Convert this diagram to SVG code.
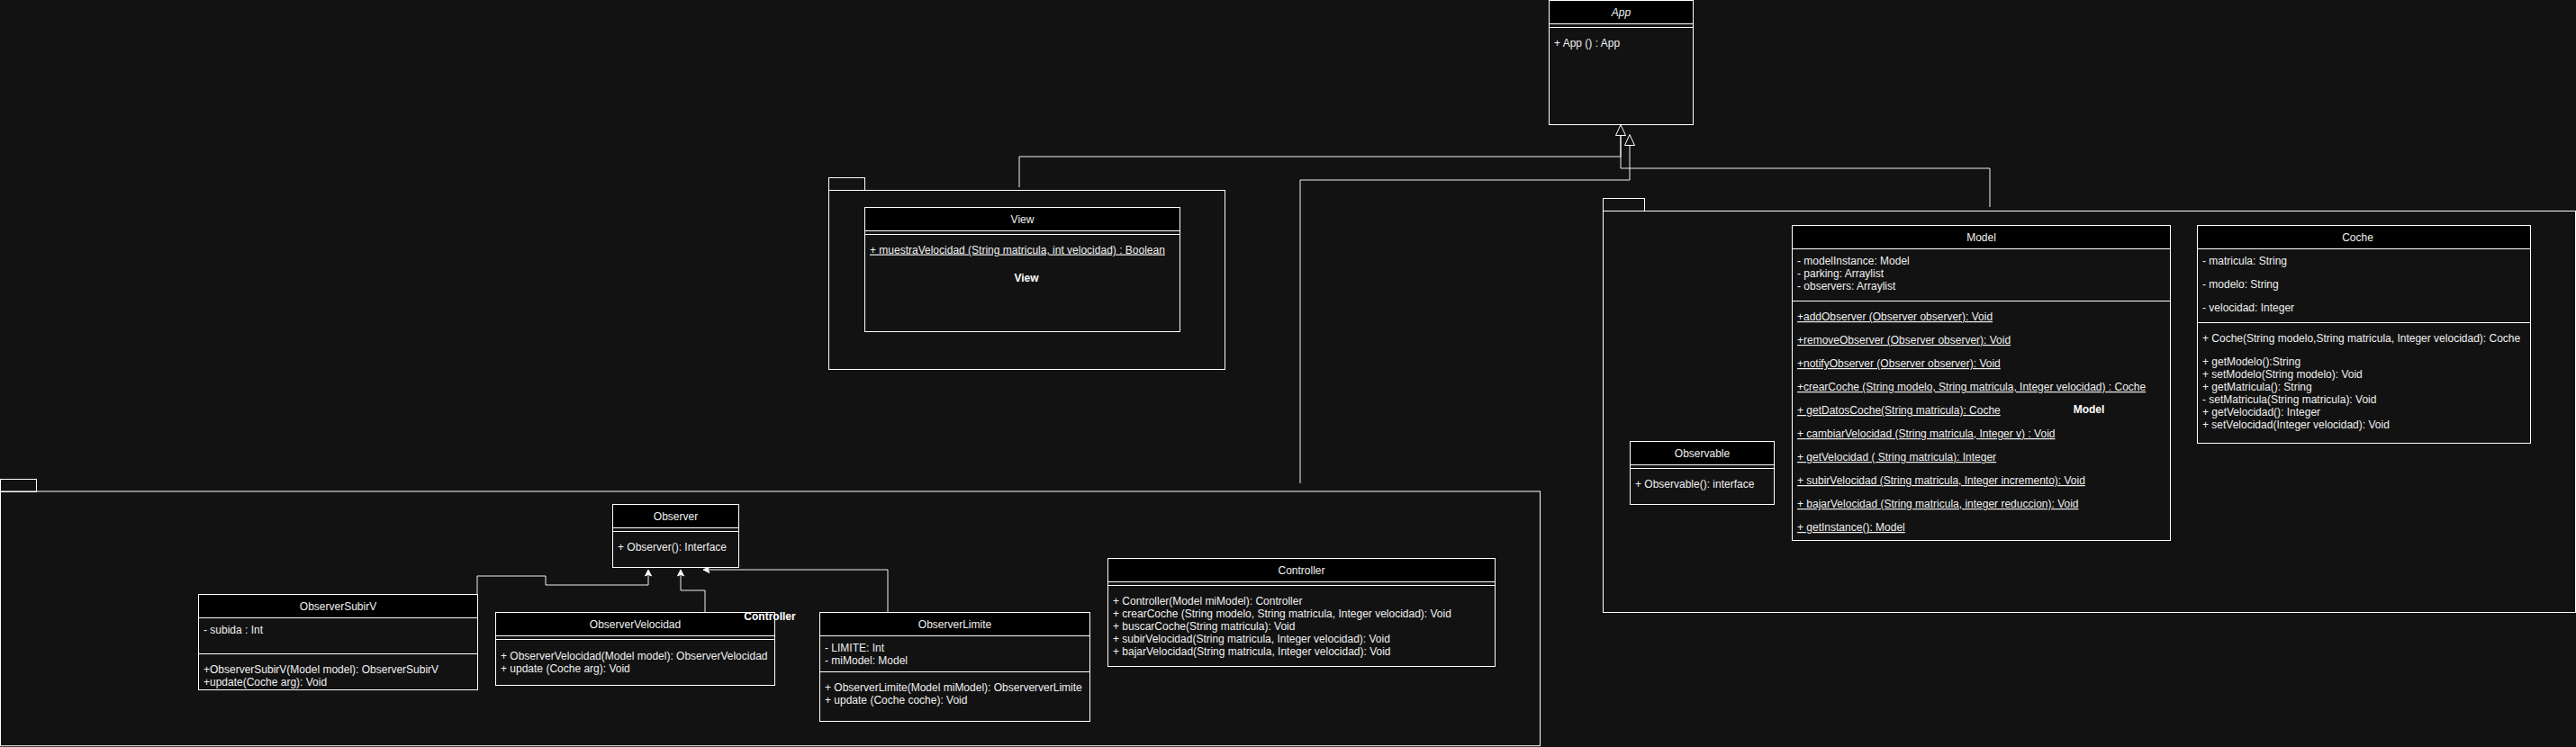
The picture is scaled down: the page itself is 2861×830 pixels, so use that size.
<svg xmlns="http://www.w3.org/2000/svg" width="2861" height="830" viewBox="0 0 2861 830">
<style>
  text { font-family: "Liberation Sans", Arial, sans-serif; font-size: 12px; fill: #f0f0f0; }
  .title { text-anchor: middle; }
  .it { font-style: italic; }
  .pkglabel { font-weight: bold; text-anchor: middle; fill: #ffffff; }
  .u { text-decoration: underline; }
  .box { fill: #121212; stroke: #ffffff; stroke-width: 1; }
  .head { fill: #000000; stroke: #ffffff; stroke-width: 1; }
  .sep { stroke: #ffffff; stroke-width: 1; fill: none; }
  .pkg { fill: none; stroke: #ffffff; stroke-width: 1; }
  .edge { fill: none; stroke: #f0f0f0; stroke-width: 1; }
  .hollow { fill: #121212; stroke: #ffffff; stroke-width: 1; }
  .classic { fill: #ffffff; stroke: #ffffff; stroke-width: 1; }
</style>
<rect x="0" y="0" width="2861" height="830" fill="#121212"/>

<!-- Packages -->
<g id="pkg-view">
  <rect class="pkg" x="920.5" y="197.5" width="40" height="14"/>
  <rect class="pkg" x="920.5" y="211.5" width="440" height="199"/>
</g>
<g id="pkg-model">
  <rect class="pkg" x="1780.5" y="220.5" width="46" height="14"/>
  <rect class="pkg" x="1780.5" y="234.5" width="1080" height="446"/>
</g>
<g id="pkg-controller">
  <rect class="pkg" x="0.5" y="532.5" width="40" height="14"/>
  <rect class="pkg" x="0.5" y="546" width="1710" height="282.7"/>
</g>

<!-- Connectors -->
<g id="connectors">
  <path class="edge" d="M1132,208 V174 H1800 V150"/>
  <path class="edge" d="M2210,230 V187 H1800 V150"/>
  <path class="hollow" d="M1800,138.5 L1805.5,150.5 L1794.5,150.5 Z"/>
  <path class="edge" d="M1444,537 V200 H1810 V161"/>
  <path class="hollow" d="M1810,149.5 L1815.5,161.5 L1804.5,161.5 Z"/>

  <path class="edge" d="M530,660 V640 H606 V650 H720 V638"/>
  <path class="classic" d="M720,633 L723.5,640 L720,638.2 L716.5,640 Z"/>
  <path class="edge" d="M783,680 V656 H756 V638"/>
  <path class="classic" d="M756,633 L759.5,640 L756,638.2 L752.5,640 Z"/>
  <path class="edge" d="M986,680 V633 H787"/>
  <path class="classic" d="M781,633 L788,629.5 L786.2,633 L788,636.5 Z"/>
</g>

<!-- App -->
<g id="app">
  <rect class="box" x="1720.5" y="0.5" width="160" height="138"/>
  <rect class="head" x="1720.5" y="0.5" width="160" height="26"/>
  <line class="sep" x1="1720.5" y1="30.5" x2="1880.5" y2="30.5"/>
  <text class="title it" x="1800.5" y="17.5">App</text>
  <text x="1726" y="51.5">+ App () : App</text>
</g>

<!-- View -->
<g id="view">
  <rect class="box" x="960.5" y="230.5" width="350" height="138"/>
  <rect class="head" x="960.5" y="230.5" width="350" height="26"/>
  <line class="sep" x1="960.5" y1="260.5" x2="1310.5" y2="260.5"/>
  <text class="title" x="1135.5" y="247.5">View</text>
  <text class="u" x="966" y="281.5">+ muestraVelocidad (String matricula, int velocidad) : Boolean</text>
</g>
<text class="pkglabel" x="1140" y="312.5">View</text>

<!-- Model -->
<g id="model">
  <rect class="box" x="1990.5" y="250.5" width="420" height="350"/>
  <rect class="head" x="1990.5" y="250.5" width="420" height="26"/>
  <line class="sep" x1="1990.5" y1="334.5" x2="2410.5" y2="334.5"/>
  <text class="title" x="2200.5" y="267.5">Model</text>
  <text x="1996" y="294">- modelInstance: Model</text>
  <text x="1996" y="308">- parking: Arraylist</text>
  <text x="1996" y="322">- observers: Arraylist</text>
  <text class="u" x="1996" y="356">+addObserver (Observer observer): Void</text>
  <text class="u" x="1996" y="382">+removeObserver (Observer observer): Void</text>
  <text class="u" x="1996" y="408">+notifyObserver (Observer observer): Void</text>
  <text class="u" x="1996" y="434">+crearCoche (String modelo, String matricula, Integer velocidad) : Coche</text>
  <text class="u" x="1996" y="460">+ getDatosCoche(String matricula): Coche</text>
  <text class="u" x="1996" y="486">+ cambiarVelocidad (String matricula, Integer v) : Void</text>
  <text class="u" x="1996" y="512">+ getVelocidad ( String matricula): Integer</text>
  <text class="u" x="1996" y="538">+ subirVelocidad (String matricula, Integer incremento): Void</text>
  <text class="u" x="1996" y="564">+ bajarVelocidad (String matricula, integer reduccion): Void</text>
  <text class="u" x="1996" y="590">+ getInstance(): Model</text>
</g>
<text class="pkglabel" x="2320" y="459">Model</text>

<!-- Coche -->
<g id="coche">
  <rect class="box" x="2440.5" y="250.5" width="370" height="242"/>
  <rect class="head" x="2440.5" y="250.5" width="370" height="26"/>
  <line class="sep" x1="2440.5" y1="358.5" x2="2810.5" y2="358.5"/>
  <text class="title" x="2618.5" y="267.5">Coche</text>
  <text x="2446" y="294">- matricula: String</text>
  <text x="2446" y="320">- modelo: String</text>
  <text x="2446" y="346">- velocidad: Integer</text>
  <text x="2446" y="380">+ Coche(String modelo,String matricula, Integer velocidad): Coche</text>
  <text x="2446" y="406">+ getModelo():String</text>
  <text x="2446" y="420">+ setModelo(String modelo): Void</text>
  <text x="2446" y="434">+ getMatricula(): String</text>
  <text x="2446" y="448">- setMatricula(String matricula): Void</text>
  <text x="2446" y="462">+ getVelocidad(): Integer</text>
  <text x="2446" y="476">+ setVelocidad(Integer velocidad): Void</text>
</g>

<!-- Observable -->
<g id="observable">
  <rect class="box" x="1810.5" y="490.5" width="160" height="70"/>
  <rect class="head" x="1810.5" y="490.5" width="160" height="26"/>
  <line class="sep" x1="1810.5" y1="520.5" x2="1970.5" y2="520.5"/>
  <text class="title" x="1890.5" y="507.5">Observable</text>
  <text x="1816" y="542">+ Observable(): interface</text>
</g>

<!-- Observer -->
<g id="observer">
  <rect class="box" x="680.5" y="560.5" width="140" height="70"/>
  <rect class="head" x="680.5" y="560.5" width="140" height="26"/>
  <line class="sep" x1="680.5" y1="590.5" x2="820.5" y2="590.5"/>
  <text class="title" x="750.5" y="577.5">Observer</text>
  <text x="686" y="612">+ Observer(): Interface</text>
</g>

<!-- ObserverSubirV -->
<g id="observer-subirv">
  <rect class="box" x="220.5" y="660.5" width="310" height="106"/>
  <rect class="head" x="220.5" y="660.5" width="310" height="26"/>
  <line class="sep" x1="220.5" y1="726.5" x2="530.5" y2="726.5"/>
  <text class="title" x="375.5" y="677.5">ObserverSubirV</text>
  <text x="226" y="704">- subida : Int</text>
  <text x="226" y="748">+ObserverSubirV(Model model): ObserverSubirV</text>
  <text x="226" y="762">+update(Coche arg): Void</text>
</g>

<!-- ObserverVelocidad -->
<g id="observer-velocidad">
  <rect class="box" x="550.5" y="680.5" width="310" height="81"/>
  <rect class="head" x="550.5" y="680.5" width="310" height="26"/>
  <line class="sep" x1="550.5" y1="710.5" x2="860.5" y2="710.5"/>
  <text class="title" x="705.5" y="697.5">ObserverVelocidad</text>
  <text x="556" y="732.5">+ ObserverVelocidad(Model model): ObserverVelocidad</text>
  <text x="556" y="746.5">+ update (Coche arg): Void</text>
</g>

<!-- ObserverLimite -->
<g id="observer-limite">
  <rect class="box" x="910.5" y="680.5" width="300" height="121"/>
  <rect class="head" x="910.5" y="680.5" width="300" height="26"/>
  <line class="sep" x1="910.5" y1="746.5" x2="1210.5" y2="746.5"/>
  <text class="title" x="1060.5" y="697.5">ObserverLimite</text>
  <text x="916" y="723.5">- LIMITE: Int</text>
  <text x="916" y="737.5">- miModel: Model</text>
  <text x="916" y="768">+ ObserverLimite(Model miModel): ObserververLimite</text>
  <text x="916" y="782">+ update (Coche coche): Void</text>
</g>

<!-- Controller -->
<g id="controller">
  <rect class="box" x="1230.5" y="620.5" width="430" height="120"/>
  <rect class="head" x="1230.5" y="620.5" width="430" height="26"/>
  <line class="sep" x1="1230.5" y1="650.5" x2="1660.5" y2="650.5"/>
  <text class="title" x="1445.5" y="637.5">Controller</text>
  <text x="1236" y="672">+ Controller(Model miModel): Controller</text>
  <text x="1236" y="686">+ crearCoche (String modelo, String matricula, Integer velocidad): Void</text>
  <text x="1236" y="700">+ buscarCoche(String matricula): Void</text>
  <text x="1236" y="714">+ subirVelocidad(String matricula, Integer velocidad): Void</text>
  <text x="1236" y="728">+ bajarVelocidad(String matricula, Integer velocidad): Void</text>
</g>
<text class="pkglabel" x="855" y="689">Controller</text>
</svg>
